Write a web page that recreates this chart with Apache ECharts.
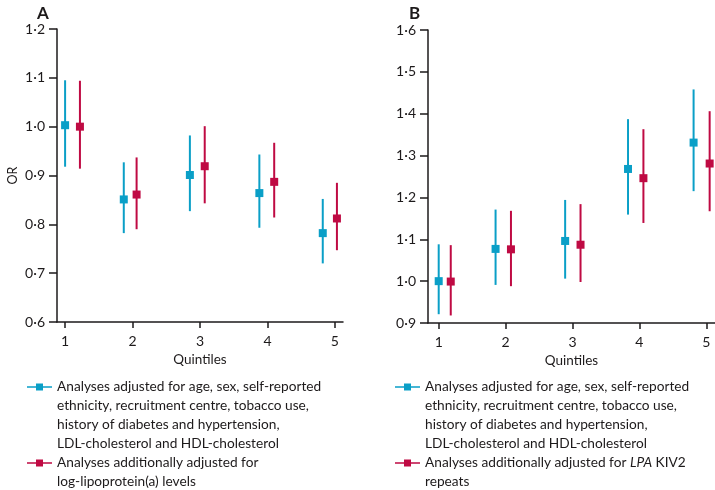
<!DOCTYPE html>
<html>
<head>
<meta charset="utf-8">
<script src="https://cdn.jsdelivr.net/npm/echarts@6/dist/echarts.min.js"></script>
<style>html,body{margin:0;padding:0;background:#fff}#c{width:715px;height:490px}</style>
</head>
<body>
<div id="c"></div>
<script>
// ---- Data ----
const quintiles = [1, 2, 3, 4, 5];
const yTicksA = [0.6, 0.7, 0.8, 0.9, 1.0, 1.1, 1.2];
const yTicksB = [0.9, 1.0, 1.1, 1.2, 1.3, 1.4, 1.5, 1.6];

// Panel A
const aBlueX = [1.0, 1.87, 2.85, 3.88, 4.82];
const aBlueOR = [1.003, 0.851, 0.901, 0.864, 0.782];
const aBlueLo = [0.918, 0.782, 0.827, 0.793, 0.720];
const aBlueHi = [1.095, 0.927, 0.982, 0.943, 0.852];
const aRedX = [1.22, 2.06, 3.07, 4.10, 5.03];
const aRedOR = [1.000, 0.861, 0.919, 0.887, 0.812];
const aRedLo = [0.914, 0.790, 0.843, 0.814, 0.747];
const aRedHi = [1.094, 0.937, 1.001, 0.967, 0.885];

// Panel B
const bBlueX = [1.0, 1.85, 2.89, 3.83, 4.81];
const bBlueOR = [1.000, 1.077, 1.096, 1.268, 1.331];
const bBlueLo = [0.921, 0.991, 1.006, 1.159, 1.215];
const bBlueHi = [1.088, 1.171, 1.194, 1.387, 1.458];
const bRedX = [1.18, 2.08, 3.12, 4.06, 5.05];
const bRedOR = [0.999, 1.076, 1.087, 1.246, 1.281];
const bRedLo = [0.918, 0.988, 0.998, 1.139, 1.167];
const bRedHi = [1.086, 1.168, 1.184, 1.363, 1.406];

const legendBlueLines = ['Analyses adjusted for age, sex, self-reported', 'ethnicity, recruitment centre, tobacco use,', 'history of diabetes and hypertension,', 'LDL-cholesterol and HDL-cholesterol'];
const legendRedALines = ['Analyses additionally adjusted for', 'log-lipoprotein(a) levels'];
const legendRedBLines = ['Analyses additionally adjusted for LPA KIV2', 'repeats'];

// ---- Styles ----
const BLUE = '#0a9fc7';
const RED = '#bf0a43';
const INK = '#1d1a1b';
const FONT = 'Lato';

const chart = echarts.init(document.getElementById('c'));

const zip2 = (xs, ys) => xs.map((x, i) => [x, ys[i]]);
const zip3 = (xs, lo, hi) => xs.map((x, i) => [x, lo[i], hi[i]]);
const fmt = v => v.toFixed(1).replace('.', '\u00b7');

function errBars(name, color, xi, data) {
  return {
    type: 'custom', name: name + '-ci', xAxisIndex: xi, yAxisIndex: xi, silent: true, z: 2,
    encode: { x: 0, y: [1, 2] },
    data: data,
    renderItem: function (params, api) {
      const p1 = api.coord([api.value(0), api.value(1)]);
      const p2 = api.coord([api.value(0), api.value(2)]);
      return { type: 'line', shape: { x1: p1[0], y1: p1[1], x2: p2[0], y2: p2[1] },
        style: { stroke: color, lineWidth: 2 } };
    }
  };
}
function points(name, color, xi, data) {
  return {
    type: 'scatter', name: name, xAxisIndex: xi, yAxisIndex: xi, z: 3,
    symbol: 'rect', symbolSize: 8, itemStyle: { color: color, opacity: 1 },
    data: data, emphasis: { disabled: true }
  };
}

const nameBlue = legendBlueLines.join(' ');
const nameBlueB = legendBlueLines.join(' ') + ' ';
const nameRedA = legendRedALines.join(' ');
const nameRedB = legendRedBLines.join(' ');

const lineTexts = {};
lineTexts[nameBlue] = legendBlueLines;
lineTexts[nameBlueB] = legendBlueLines;
lineTexts[nameRedA] = legendRedALines;
lineTexts[nameRedB] = legendRedBLines;

const LH = 18.8;
const ICON = 'path://M0,3.3H9V0.5H16V3.3H25V4.7H16V7.5H9V4.7H0Z';

function legend(name, left, firstLineY) {
  const n = lineTexts[name].length;
  return {
    data: [name], left: left, top: firstLineY - (n - 1) * LH - LH / 2, orient: 'vertical',
    icon: ICON, itemWidth: 25, itemHeight: 8, selectedMode: false, padding: 0,
    formatter: function (nm) {
      const lines = lineTexts[nm].map(s => s.replace('LPA', '{i|LPA}'));
      return '\n'.repeat(n - 1) + lines.join('\n');
    },
    textStyle: { fontFamily: FONT, fontSize: 13.7, color: INK, lineHeight: LH,
      rich: { i: { fontStyle: 'italic', fontFamily: FONT, fontSize: 13.7, color: INK, lineHeight: LH } } }
  };
}

function xAxis(gi, min, max) {
  return {
    type: 'value', gridIndex: gi, min: min, max: max,
    name: 'Quintiles', nameLocation: 'middle', nameGap: 31,
    nameTextStyle: { fontFamily: FONT, fontSize: 13.5, color: INK },
    splitLine: { show: false },
    axisLine: { show: true, onZero: false, lineStyle: { color: INK, width: 1.5 } },
    axisTick: { show: true, length: 6, inside: false, customValues: quintiles, lineStyle: { color: INK, width: 1.5 } },
    axisLabel: { customValues: quintiles, margin: 12, fontFamily: FONT, fontSize: 14, color: INK, formatter: v => String(v) }
  };
}
function yAxis(gi, ticks, name) {
  return {
    type: 'value', gridIndex: gi, min: ticks[0], max: ticks[ticks.length - 1],
    name: name, nameLocation: 'middle', nameGap: 38, nameRotate: 90,
    nameTextStyle: { fontFamily: FONT, fontSize: 12.5, color: INK },
    splitLine: { show: false },
    axisLine: { show: true, lineStyle: { color: INK, width: 1.5 } },
    axisTick: { show: true, length: 8, customValues: ticks, lineStyle: { color: INK, width: 1.5 } },
    axisLabel: { customValues: ticks, margin: 12, fontFamily: FONT, fontSize: 14, color: INK, formatter: fmt }
  };
}

chart.setOption({
  animation: false,
  backgroundColor: '#fff',
  title: [
    { text: 'A', left: 32, top: 0, textStyle: { fontFamily: FONT, fontSize: 17, fontWeight: 'bold', color: INK } },
    { text: 'B', left: 404, top: 0, textStyle: { fontFamily: FONT, fontSize: 17, fontWeight: 'bold', color: INK } }
  ],
  grid: [
    { left: 57, top: 29, width: 286, height: 293 },
    { left: 428, top: 30, width: 287, height: 293 }
  ],
  xAxis: [xAxis(0, 0.88, 5.12), xAxis(1, 0.84, 5.13)],
  yAxis: [yAxis(0, yTicksA, 'OR'), yAxis(1, yTicksB, '')],
  legend: [
    legend(nameBlue, 27, 387),
    legend(nameRedA, 27, 463),
    legend(nameBlueB, 395, 387),
    legend(nameRedB, 395, 463)
  ],
  series: [
    errBars(nameBlue, BLUE, 0, zip3(aBlueX, aBlueLo, aBlueHi)),
    errBars(nameRedA, RED, 0, zip3(aRedX, aRedLo, aRedHi)),
    points(nameBlue, BLUE, 0, zip2(aBlueX, aBlueOR)),
    points(nameRedA, RED, 0, zip2(aRedX, aRedOR)),
    errBars(nameBlueB, BLUE, 1, zip3(bBlueX, bBlueLo, bBlueHi)),
    errBars(nameRedB, RED, 1, zip3(bRedX, bRedLo, bRedHi)),
    points(nameBlueB, BLUE, 1, zip2(bBlueX, bBlueOR)),
    points(nameRedB, RED, 1, zip2(bRedX, bRedOR))
  ]
});
</script>
</body>
</html>
